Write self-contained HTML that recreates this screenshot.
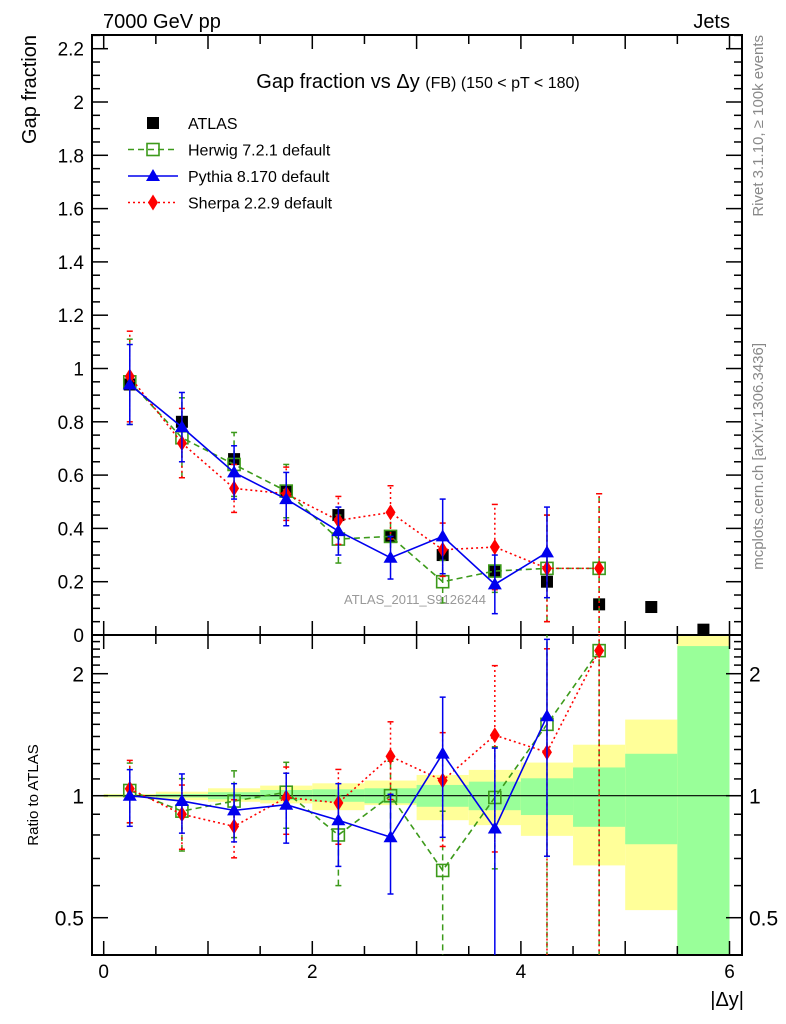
<!DOCTYPE html>
<html><head><meta charset="utf-8"><style>
html,body{margin:0;padding:0;background:#fff;width:786px;height:1024px;overflow:hidden;position:relative;}
svg{display:block;font-family:"Liberation Sans",sans-serif;}
</style></head><body>
<svg id="c" width="786" height="1024" style="position:absolute;left:0;top:0"></svg>
<script>
const xCenters=[0.25,0.75,1.25,1.75,2.25,2.75,3.25,3.75,4.25,4.75,5.25,5.75];
const atlasVals=[0.94,0.80,0.66,0.54,0.45,0.37,0.30,0.24,0.20,0.115,0.105,0.02];
const herwigVals=[0.95,0.74,0.64,0.54,0.36,0.37,0.20,0.24,0.25,0.25];
const herwigErr=[0.16,0.15,0.12,0.10,0.09,0.08,0.08,0.08,0.2,0.28];
const pythiaVals=[0.94,0.78,0.61,0.51,0.39,0.29,0.37,0.19,0.31];
const pythiaErr=[0.15,0.13,0.10,0.10,0.09,0.08,0.14,0.11,0.17];
const sherpaVals=[0.97,0.72,0.55,0.53,0.43,0.46,0.32,0.33,0.25,0.25];
const sherpaErr=[0.17,0.13,0.09,0.10,0.09,0.10,0.10,0.16,0.2,0.28];
const herwigRatio=[1.03,0.916,0.97,1.02,0.80,1.0,0.654,0.99,1.5,2.28];
const pythiaRatio=[1.0,0.97,0.92,0.95,0.87,0.79,1.27,0.83,1.57];
const sherpaRatio=[1.04,0.90,0.84,0.99,0.96,1.25,1.09,1.41,1.28,2.28];
const binEdges=[0,0.5,1,1.5,2,2.5,3,3.5,4,4.5,5,5.5,6];
const yellowUp=[1.01,1.023,1.043,1.059,1.073,1.09,1.125,1.158,1.207,1.336,1.541,2.6];
const yellowDn=[0.99,0.975,0.966,0.957,0.921,0.948,0.87,0.846,0.796,0.673,0.522,0.38];
const greenUp=[1.005,1.01,1.02,1.033,1.037,1.043,1.063,1.083,1.104,1.174,1.269,2.34];
const greenDn=[0.995,0.99,0.98,0.975,0.966,0.958,0.939,0.921,0.896,0.838,0.759,0.38];
const mainTicks=[0,0.2,0.4,0.6,0.8,1,1.2,1.4,1.6,1.8,2,2.2];
const mainTickLabels=["0","0.2","0.4","0.6","0.8","1","1.2","1.4","1.6","1.8","2","2.2"];
const xTickLabels=["0","2","4","6"];
const xTickVals=[0,2,4,6];
const ratioTicks=[0.5,1,2];
const ratioTickLabels=["0.5","1","2"];

const NS="http://www.w3.org/2000/svg";
const svg=document.getElementById('c');
const L=92,R=742,T=35,MB=635,RB=955;
const X=v=>103.7+v*104.3;
const Y=v=>635-v*266.5;
const RY=v=>795.7-Math.log2(v)*122;
function el(tag,attrs,parent){const e=document.createElementNS(NS,tag);for(const k in attrs)e.setAttribute(k,attrs[k]);(parent||svg).appendChild(e);return e;}
function txt(s,attrs,parent){const e=el('text',attrs,parent);e.textContent=s;return e;}

const clipR=el('clipPath',{id:'cr'});el('rect',{x:L,y:MB,width:R-L,height:RB-MB},clipR);
const bands=el('g',{'clip-path':'url(#cr)'});


for(let i=0;i<yellowUp.length;i++){
 const x0=X(binEdges[i]),x1=X(binEdges[i+1]);
 const y=el('rect',{x:x0,y:RY(yellowUp[i]),width:x1-x0,height:RY(yellowDn[i])-RY(yellowUp[i]),fill:'#ffff99'},bands);
 
 
 const g=el('rect',{x:x0,y:RY(greenUp[i]),width:x1-x0,height:RY(greenDn[i])-RY(greenUp[i]),fill:'#99ff99'},bands);
 
 
}
el('line',{x1:L,x2:R,y1:RY(1),y2:RY(1),stroke:'#000','stroke-width':1.2});

el('rect',{x:L,y:T,width:R-L,height:MB-T,fill:'none',stroke:'#000','stroke-width':2});
el('rect',{x:L,y:MB,width:R-L,height:RB-MB,fill:'none',stroke:'#000','stroke-width':2});

for(let v=0;v<=2.251;v+=0.05){
 const major=Math.abs(v*5-Math.round(v*5))<1e-6;const len=major?16:8;const y=Y(v);
 el('line',{x1:L,x2:L+len,y1:y,y2:y,stroke:'#000','stroke-width':1.5});
 el('line',{x1:R,x2:R-len,y1:y,y2:y,stroke:'#000','stroke-width':1.5});
}
mainTicks.forEach((v,i)=>{const t=txt(mainTickLabels[i],{x:L-8,y:Y(v)+7,'text-anchor':'end','font-size':19});
 });
for(let v=0;v<=6.01;v+=0.5){
 const major=Math.abs(v-Math.round(v))<1e-6;const len=major?14:9;const x=X(v);
 [[MB,-1],[MB,1],[RB,-1]].forEach(([yb,d])=>el('line',{x1:x,x2:x,y1:yb,y2:yb+d*len,stroke:'#000','stroke-width':1.5}));
 el('line',{x1:x,x2:x,y1:T,y2:T+len,stroke:'#000','stroke-width':1.5});
}
xTickVals.forEach((v,i)=>{const t=txt(xTickLabels[i],{x:X(v),y:978,'text-anchor':'middle','font-size':19});
 });
for(let v=0.4;v<=2.5;v+=0.1){const y=RY(v);if(y<MB||y>RB)continue;
 const major=ratioTicks.some(r=>Math.abs(r-v)<1e-6);const len=major?16:8;
 el('line',{x1:L,x2:L+len,y1:y,y2:y,stroke:'#000','stroke-width':1.5});
 el('line',{x1:R,x2:R-len,y1:y,y2:y,stroke:'#000','stroke-width':1.5});}
ratioTicks.forEach((v,i)=>{
 const a=txt(ratioTickLabels[i],{x:L-8,y:RY(v)+8,'text-anchor':'end','font-size':21});
 
 const b=txt(ratioTickLabels[i],{x:R+7,y:RY(v)+8,'font-size':21});
 });

function marker(kind,x,y,g){
 if(kind==='atlas')return el('rect',{x:x-6,y:y-6,width:12,height:12,fill:'#000'},g);
 if(kind==='herwig')return el('rect',{x:x-6,y:y-6,width:12,height:12,fill:'none',stroke:'#3c9a1a','stroke-width':1.6},g);
 if(kind==='pythia')return el('polygon',{points:`${x},${y-7} ${x+7},${y+5} ${x-7},${y+5}`,fill:'#0000ee'},g);
 return el('polygon',{points:`${x},${y-8} ${x+5},${y} ${x},${y+8} ${x-5},${y}`,fill:'#ff0000'},g);
}
const styles={herwig:{c:'#3c9a1a',d:'6,4'},pythia:{c:'#0000ee',d:''},sherpa:{c:'#ff0000',d:'2,3'}};
const clipM=el('clipPath',{id:'cm'});el('rect',{x:L,y:T,width:R-L,height:MB-T},clipM);
function series(name,vals,errs,ratios){
 const s=styles[name];
 const g=el('g',{'clip-path':'url(#cm)'});
 const pts=vals.map((v,i)=>X(xCenters[i])+','+Y(v)).join(' ');
 el('polyline',{points:pts,fill:'none',stroke:s.c,'stroke-width':1.6,'stroke-dasharray':s.d},g);
 vals.forEach((v,i)=>{const x=X(xCenters[i]);
  el('line',{x1:x,x2:x,y1:Y(v-errs[i]),y2:Y(v+errs[i]),stroke:s.c,'stroke-width':1.5,'stroke-dasharray':s.d},g);
  [v-errs[i],v+errs[i]].forEach(e=>el('line',{x1:x-3,x2:x+3,y1:Y(e),y2:Y(e),stroke:s.c,'stroke-width':1.5},g));
  const m=marker(name,x,Y(v),g);});
 const gr=el('g',{'clip-path':'url(#cr)'});
 el('polyline',{points:ratios.map((v,i)=>X(xCenters[i])+','+RY(v)).join(' '),fill:'none',stroke:s.c,'stroke-width':1.6,'stroke-dasharray':s.d},gr);
 ratios.forEach((v,i)=>{const x=X(xCenters[i]);const f=errs[i]/vals[i];
  const lo=Math.max(v*(1-f),0.01),hi=v*(1+f);
  el('line',{x1:x,x2:x,y1:RY(lo),y2:RY(hi),stroke:s.c,'stroke-width':1.5,'stroke-dasharray':s.d},gr);
  [lo,hi].forEach(e=>el('line',{x1:x-3,x2:x+3,y1:RY(e),y2:RY(e),stroke:s.c,'stroke-width':1.5},gr));
  const m=marker(name,x,RY(v),gr);});
}
const ga=el('g',{});
atlasVals.forEach((v,i)=>{const m=marker('atlas',X(xCenters[i]),Y(v),ga);});
series('herwig',herwigVals,herwigErr,herwigRatio);
series('sherpa',sherpaVals,sherpaErr,sherpaRatio);
series('pythia',pythiaVals,pythiaErr,pythiaRatio);

const lg=el('g',{});
const legendItems=[['atlas','ATLAS'],['herwig','Herwig 7.2.1 default'],['pythia','Pythia 8.170 default'],['sherpa','Sherpa 2.2.9 default']];
legendItems.forEach(([k,lab],i)=>{const y=123+i*26.5;
 if(k!=='atlas'){el('line',{x1:128,x2:178,y1:y,y2:y,stroke:styles[k].c,'stroke-width':1.6,'stroke-dasharray':styles[k].d},lg);}
 marker(k,153,y,lg);
 const t=txt(lab,{x:188,y:y+6,'font-size':16},lg);});
</script>
<svg style="position:absolute;left:0;top:0" width="786" height="1024">
<g font-family="Liberation Sans, sans-serif">
<text x="103" y="28" font-size="20">7000 GeV pp</text>
<text x="730" y="28" font-size="20" text-anchor="end">Jets</text>
<text x="418" y="88" font-size="20" text-anchor="middle">Gap fraction vs Δy <tspan font-size="16">(FB)  (150 &lt; pT &lt; 180)</tspan></text>
<text transform="translate(36,35) rotate(-90)" font-size="20" text-anchor="end">Gap fraction</text>
<text transform="translate(38,795) rotate(-90)" font-size="15" text-anchor="middle">Ratio to ATLAS</text>
<text x="744" y="1006" font-size="20" text-anchor="end">|Δy|</text>
<text transform="translate(763,35) rotate(-90)" font-size="15" fill="#888" text-anchor="end">Rivet 3.1.10, ≥ 100k events</text>
<text transform="translate(763,343) rotate(-90)" font-size="15" fill="#888" text-anchor="end">mcplots.cern.ch [arXiv:1306.3436]</text>
<text x="415" y="604" font-size="13" fill="#999" text-anchor="middle">ATLAS_2011_S9126244</text>
</g></svg>
</body></html>
